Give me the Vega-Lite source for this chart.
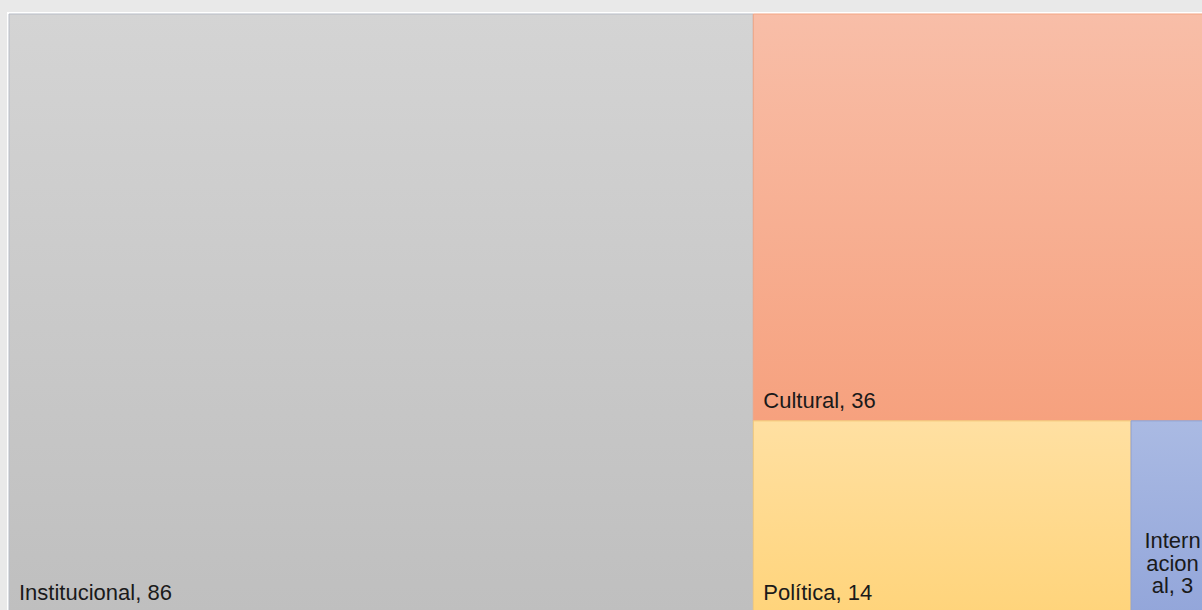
{
  "$schema": "https://vega.github.io/schema/vega-lite/v6.json",
  "width": 1203,
  "height": 599,
  "padding": {"left": 8, "top": 13, "right": 0, "bottom": 0},
  "background": "#e9e9e9",
  "config": {"view": {"stroke": "white", "strokeWidth": 4}, "text": {"font": "Liberation Sans", "fontSize": 22, "color": "#1a1a1a"}},
  "data": {"values": [
    {"categoria": "Institucional", "valor": 86, "grupo": "Institucional", "fila": "Institucional", "etiqueta": "Institucional, 86"},
    {"categoria": "Cultural", "valor": 36, "grupo": "Resto", "fila": "Cultural", "etiqueta": "Cultural, 36"},
    {"categoria": "Política", "valor": 14, "grupo": "Resto", "fila": "Inferior", "etiqueta": "Política, 14"},
    {"categoria": "Internacional", "valor": 3, "grupo": "Resto", "fila": "Inferior", "etiqueta": "Intern\nacion\nal, 3"}
  ]},
  "transform": [
    {"joinaggregate": [{"op": "sum", "field": "valor", "as": "total"}]},
    {"joinaggregate": [{"op": "sum", "field": "valor", "as": "t1"}], "groupby": ["grupo"]},
    {"joinaggregate": [{"op": "sum", "field": "valor", "as": "t2"}], "groupby": ["grupo", "fila"]},
    {"window": [{"op": "sum", "field": "valor", "as": "acum"}], "groupby": ["grupo", "fila"], "sort": [{"field": "valor", "order": "descending"}], "frame": [null, 0]},
    {"calculate": "datum.grupo === 'Institucional' ? 0 : (datum.total - datum.t1) / datum.total", "as": "gx0"},
    {"calculate": "datum.gx0 + datum.t1 / datum.total", "as": "gx1"},
    {"calculate": "datum.gx0 + (datum.gx1 - datum.gx0) * (datum.acum - datum.valor) / datum.t2", "as": "x0"},
    {"calculate": "datum.gx0 + (datum.gx1 - datum.gx0) * datum.acum / datum.t2", "as": "x1"},
    {"calculate": "(datum.x0 + datum.x1) / 2", "as": "xm"},
    {"calculate": "datum.fila === 'Inferior' ? 1 - datum.t2 / datum.t1 : 0", "as": "y0"},
    {"calculate": "datum.fila === 'Inferior' ? 1 : datum.t2 / datum.t1", "as": "y1"}
  ],
  "encoding": {
    "x": {"field": "x0", "type": "quantitative", "scale": {"domain": [0, 1], "nice": false, "zero": false}, "axis": null},
    "y": {"field": "y0", "type": "quantitative", "scale": {"domain": [0, 1], "nice": false, "reverse": true}, "axis": null}
  },
  "layer": [
    {"transform": [{"filter": "datum.categoria === 'Institucional'"}],
     "mark": {"type": "rect", "stroke": "#b7bcc6", "strokeWidth": 1, "fill": {"gradient": "linear", "x1": 0, "y1": 0, "x2": 0, "y2": 1, "stops": [{"offset": 0, "color": "#d4d4d4"}, {"offset": 1, "color": "#bfbfbf"}]}},
     "encoding": {"x2": {"field": "x1"}, "y2": {"field": "y1"}}},
    {"transform": [{"filter": "datum.categoria === 'Cultural'"}],
     "mark": {"type": "rect", "stroke": "#f2a584", "strokeWidth": 1, "fill": {"gradient": "linear", "x1": 0, "y1": 0, "x2": 0, "y2": 1, "stops": [{"offset": 0, "color": "#f8bea8"}, {"offset": 1, "color": "#f6a17e"}]}},
     "encoding": {"x2": {"field": "x1"}, "y2": {"field": "y1"}}},
    {"transform": [{"filter": "datum.categoria === 'Política'"}],
     "mark": {"type": "rect", "stroke": "#f3c878", "strokeWidth": 1, "fill": {"gradient": "linear", "x1": 0, "y1": 0, "x2": 0, "y2": 1, "stops": [{"offset": 0, "color": "#ffe0a2"}, {"offset": 1, "color": "#ffd47b"}]}},
     "encoding": {"x2": {"field": "x1"}, "y2": {"field": "y1"}}},
    {"transform": [{"filter": "datum.categoria === 'Internacional'"}],
     "mark": {"type": "rect", "stroke": "#8ea0d2", "strokeWidth": 1, "fill": {"gradient": "linear", "x1": 0, "y1": 0, "x2": 0, "y2": 1, "stops": [{"offset": 0, "color": "#aabae3"}, {"offset": 1, "color": "#93a6da"}]}},
     "encoding": {"x2": {"field": "x1"}, "y2": {"field": "y1"}}},
    {"transform": [{"filter": "datum.categoria !== 'Internacional'"}],
     "mark": {"type": "text", "align": "left", "baseline": "alphabetic", "dx": 10, "dy": -13},
     "encoding": {"y": {"field": "y1", "type": "quantitative"}, "text": {"field": "etiqueta"}}},
    {"transform": [{"filter": "datum.categoria === 'Internacional'"}],
     "mark": {"type": "text", "align": "center", "baseline": "alphabetic", "lineBreak": "\n", "lineHeight": 22.5, "dy": -65, "dx": 1},
     "encoding": {"x": {"field": "xm", "type": "quantitative"}, "y": {"field": "y1", "type": "quantitative"}, "text": {"field": "etiqueta"}}}
  ]
}
